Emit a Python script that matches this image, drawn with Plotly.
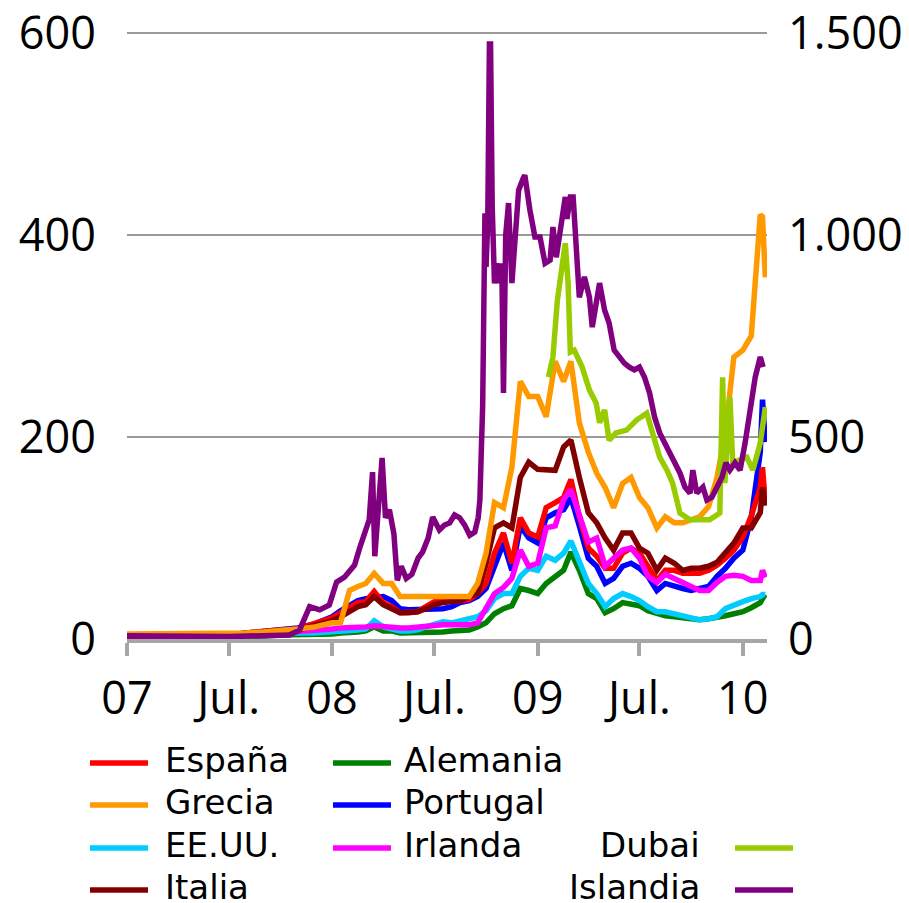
import plotly.graph_objects as go

# fechas comunes (mensual 2007, quincenal 2008-2010)
dates = ["2007-01-01", "2007-02-01", "2007-03-01", "2007-04-01", "2007-05-01", "2007-06-01",
         "2007-07-01", "2007-08-01", "2007-09-01", "2007-10-01", "2007-11-01", "2007-12-01",
         "2008-01-01", "2008-01-16", "2008-02-01", "2008-02-16", "2008-03-01", "2008-03-16",
         "2008-04-01", "2008-04-16", "2008-05-01", "2008-05-16", "2008-06-01", "2008-06-16",
         "2008-07-01", "2008-07-16", "2008-08-01", "2008-08-16", "2008-09-01", "2008-09-16",
         "2008-10-01", "2008-10-16", "2008-11-01", "2008-11-16", "2008-12-01", "2008-12-16",
         "2009-01-01", "2009-01-16", "2009-02-01", "2009-02-16", "2009-03-01", "2009-03-16",
         "2009-04-01", "2009-04-16", "2009-05-01", "2009-05-16", "2009-06-01", "2009-06-16",
         "2009-07-01", "2009-07-16", "2009-08-01", "2009-08-16", "2009-09-01", "2009-09-16",
         "2009-10-01", "2009-10-16", "2009-11-01", "2009-11-16", "2009-12-01", "2009-12-16",
         "2010-01-01", "2010-01-16", "2010-02-01", "2010-02-05", "2010-02-10"]

espana = [3, 3, 3, 3, 3, 3, 4, 6, 8, 9, 10, 15,
          21, 26, 32, 36, 37, 47, 36, 32, 26, 26, 27, 32,
          37, 37, 37, 38, 39, 45, 55, 85, 105, 75, 120, 105,
          101, 130, 135, 140, 158, 121, 90, 82, 70, 70, 85, 90,
          85, 72, 58, 68, 68, 65, 65, 65, 68, 73, 80, 88,
          101, 122, 150, 170, 135]
portugal = [3, 3, 3, 3, 3, 3, 4, 6, 8, 9, 11, 15,
            22, 28, 34, 38, 40, 41, 42, 38, 30, 29, 29, 29,
            30, 30, 32, 36, 38, 42, 50, 72, 95, 68, 112, 100,
            95, 120, 125, 128, 140, 112, 80, 72, 55, 60, 72, 75,
            70, 62, 48, 55, 52, 50, 48, 50, 52, 62, 70, 80,
            88, 120, 185, 237, 195]
italia = [3, 3, 3, 3, 3, 3, 4, 5, 7, 8, 9, 13,
          18, 22, 28, 32, 34, 42, 34, 30, 26, 26, 27, 30,
          34, 36, 37, 38, 42, 45, 75, 110, 115, 110, 160, 175,
          168, 167, 167, 190, 197, 160, 125, 115, 100, 88, 105, 105,
          90, 85, 68, 80, 75, 68, 70, 70, 72, 76, 85, 95,
          110, 110, 125, 150, 132]
grecia = [5, 5, 5, 5, 5, 5, 5, 6, 7, 8, 10, 12,
          16, 16, 48, 52, 55, 65, 55, 55, 42, 42, 42, 42,
          42, 42, 42, 42, 42, 55, 85, 135, 130, 170, 255, 240,
          240, 220, 275, 255, 275, 214, 185, 164, 150, 130, 154, 160,
          140, 130, 110, 121, 115, 115, 118, 121, 131, 160, 205, 279,
          286, 300, 420, 418, 358]
eeuu = [2, 2, 2, 2, 2, 2, 3, 4, 5, 6, 6, 6,
        7, 7, 8, 9, 10, 18, 12, 10, 8, 8, 9, 12,
        15, 17, 16, 18, 19, 22, 28, 40, 45, 45, 62, 70,
        68, 82, 78, 85, 97, 75, 55, 45, 32, 40, 45, 42,
        38, 32, 27, 27, 25, 22, 20, 19, 20, 22, 30, 34,
        37, 40, 42, 44, 44]
alemania = [2, 2, 2, 2, 2, 2, 2, 3, 3, 4, 4, 5,
            5, 6, 6, 7, 8, 12, 8, 8, 6, 6, 6, 6,
            7, 7, 8, 8, 9, 12, 16, 25, 30, 33, 50, 48,
            45, 55, 62, 68, 86, 68, 45, 40, 26, 30, 36, 35,
            33, 28, 25, 23, 22, 21, 20, 19, 20, 21, 23, 25,
            27, 31, 36, 40, 44]
irlanda = [2, 2, 2, 2, 2, 2, 3, 4, 5, 6, 7, 8,
           10, 11, 11, 12, 12, 13, 12, 11, 11, 11, 12, 13,
           14, 14, 14, 14, 14, 16, 30, 45, 51, 60, 88, 72,
           75, 110, 112, 138, 148, 121, 96, 100, 72, 80, 88, 90,
           80, 62, 56, 64, 60, 55, 52, 48, 48, 56, 62, 63,
           62, 58, 58, 68, 61]

# eje derecho
dubai_dates = ["2009-01-20", "2009-01-28", "2009-02-05", "2009-02-14", "2009-02-19", "2009-02-24",
               "2009-02-28", "2009-03-07", "2009-03-21", "2009-04-03", "2009-04-15", "2009-04-21",
               "2009-04-30", "2009-05-08", "2009-05-20", "2009-06-08", "2009-06-26", "2009-07-14",
               "2009-07-24", "2009-08-06", "2009-08-19", "2009-08-29", "2009-09-11", "2009-09-29",
               "2009-10-16", "2009-11-03", "2009-11-21", "2009-11-26", "2009-11-30", "2009-12-09",
               "2009-12-14", "2009-12-27", "2010-01-08", "2010-01-19", "2010-02-01", "2010-02-10"]
dubai = [648, 698, 839, 930, 980, 881,
         710, 715, 673, 616, 584, 535,
         567, 492, 510, 517, 542, 559,
         510, 450, 418, 386, 312, 295,
         295, 295, 312, 648, 386, 599,
         436, 443, 450, 418, 485, 574]

islandia_dates = ["2007-01-01", "2007-04-01", "2007-07-01", "2007-10-17", "2007-11-04", "2007-11-22",
                  "2007-12-10", "2007-12-27", "2008-01-09", "2008-01-23", "2008-02-10", "2008-02-19",
                  "2008-03-01", "2008-03-07", "2008-03-13", "2008-03-17", "2008-03-30", "2008-04-05",
                  "2008-04-12", "2008-04-20", "2008-04-26", "2008-05-03", "2008-05-12", "2008-05-22",
                  "2008-06-02", "2008-06-10", "2008-06-20", "2008-06-28", "2008-07-10", "2008-07-19",
                  "2008-07-28", "2008-08-06", "2008-08-15", "2008-08-24", "2008-09-02", "2008-09-11",
                  "2008-09-17", "2008-09-20", "2008-09-25", "2008-09-29", "2008-10-01", "2008-10-04",
                  "2008-10-07", "2008-10-09", "2008-10-12", "2008-10-16", "2008-10-20", "2008-10-25",
                  "2008-10-29", "2008-11-01", "2008-11-05", "2008-11-10", "2008-11-16", "2008-11-21",
                  "2008-11-28", "2008-12-06", "2008-12-09", "2008-12-18", "2008-12-27", "2009-01-05",
                  "2009-01-14", "2009-01-23", "2009-01-28", "2009-02-03", "2009-02-10", "2009-02-19",
                  "2009-02-22", "2009-02-28", "2009-03-05", "2009-03-10", "2009-03-16", "2009-03-25",
                  "2009-04-03", "2009-04-08", "2009-04-21", "2009-04-30", "2009-05-08", "2009-05-17",
                  "2009-05-26", "2009-06-04", "2009-06-13", "2009-06-22", "2009-07-01", "2009-07-10",
                  "2009-07-19", "2009-07-28", "2009-08-06", "2009-08-15", "2009-08-24", "2009-09-02",
                  "2009-09-11", "2009-09-20", "2009-09-29", "2009-10-04", "2009-10-11", "2009-10-22",
                  "2009-10-29", "2009-11-07", "2009-11-16", "2009-11-25", "2009-12-02", "2009-12-09",
                  "2009-12-18", "2009-12-27", "2010-01-05", "2010-01-14", "2010-01-23", "2010-02-01",
                  "2010-02-06"]
islandia = [8, 6, 6, 10, 22, 80,
            72, 84, 141, 153, 183, 225,
            270, 295, 413, 205, 448, 300,
            320, 260, 145, 180, 150, 160,
            200, 215, 250, 302, 270, 282,
            287, 307, 300, 282, 257, 265,
            300, 344, 579, 1054, 921, 1030,
            1473, 1473, 1069, 880, 930, 881,
            930, 609, 1000, 1079, 881, 1000,
            1111, 1140, 1148, 1062, 995, 995,
            930, 938, 1020, 945, 1012, 1094,
            1040, 1094, 1094, 988, 846, 896,
            846, 772, 881, 814, 782, 715,
            698, 683, 673, 666, 673, 648,
            609, 549, 510, 485, 460, 436,
            411, 376, 361, 418, 361, 376,
            344, 351, 376, 401, 436, 418,
            436, 418, 485, 567, 648, 698,
            673]

tick_dates = ["2007-01-01", "2007-07-01", "2008-01-01", "2008-07-01", "2009-01-01", "2009-07-01", "2010-01-01"]
tick_text = ["07", "Jul.", "08", "Jul.", "09", "Jul.", "10"]

left_series = [
    ("Alemania", alemania, "#008000"),
    ("EE.UU.", eeuu, "#00CCFF"),
    ("Portugal", portugal, "#0000FF"),
    ("España", espana, "#FF0000"),
    ("Irlanda", irlanda, "#FF00FF"),
    ("Italia", italia, "#800000"),
    ("Grecia", grecia, "#FF9900"),
]

LW = 5.5

fig = go.Figure()
for name, vals, color in left_series:
    fig.add_trace(go.Scatter(x=dates, y=vals, name=name, mode="lines",
                             line=dict(color=color, width=LW)))
fig.add_trace(go.Scatter(x=dubai_dates, y=dubai, name="Dubai", mode="lines", yaxis="y2",
                         line=dict(color="#99CC00", width=LW)))
fig.add_trace(go.Scatter(x=islandia_dates, y=islandia, name="Islandia", mode="lines", yaxis="y2",
                         line=dict(color="#800080", width=LW)))

# page has an 8px body margin; plot area on the page: x 127..767, y 32..639
OFF = 8
W, H = 909 - OFF, 903 - OFF
L, R, T, B = 127, 767, 32, 639


def px(x):
    return (x - L) / (R - L)


def py(y):
    return (B - y) / (B - T)


legend_items = [
    ("España", "#FF0000", 90, 148, 163, 763, "left"),
    ("Grecia", "#FF9900", 90, 148, 163, 805, "left"),
    ("EE.UU.", "#00CCFF", 90, 148, 163, 848, "left"),
    ("Italia", "#800000", 90, 148, 163, 890, "left"),
    ("Alemania", "#008000", 333, 391, 402, 763, "left"),
    ("Portugal", "#0000FF", 333, 391, 402, 805, "left"),
    ("Irlanda", "#FF00FF", 333, 391, 402, 848, "left"),
    ("Dubai", "#99CC00", 735, 793, 702, 848, "right"),
    ("Islandia", "#800080", 735, 793, 702, 890, "right"),
]
for text, color, x0, x1, tx, y, anchor in legend_items:
    fig.add_shape(type="line", xref="paper", yref="paper", x0=px(x0), x1=px(x1), y0=py(y), y1=py(y),
                  line=dict(color=color, width=LW))
    fig.add_annotation(xref="paper", yref="paper", x=px(tx), y=py(y - 3), text=text, showarrow=False,
                       xanchor=anchor, yanchor="middle",
                       font=dict(family="DejaVu Sans", size=34, color="black"))

fig.update_layout(
    width=W, height=H,
    margin=dict(l=L - OFF, r=W - (R - OFF), t=T - OFF, b=H - (B - OFF)),
    showlegend=False,
    plot_bgcolor="white", paper_bgcolor="white",
    font=dict(family="Open Sans", size=45, color="black"),
    separators=",.",
    xaxis=dict(type="date", range=["2007-01-01", "2010-02-13"], automargin=False,
               tickmode="array", tickvals=tick_dates, ticktext=tick_text,
               tickfont=dict(family="Liberation Sans Narrow, Open Sans", size=45),
               showgrid=False, zeroline=False,
               showline=True, linecolor="#A6A6A6", linewidth=4,
               ticks="outside", ticklen=13, tickwidth=4, tickcolor="#A6A6A6",
               ticklabelstandoff=4),
    yaxis=dict(range=[0, 601], tickmode="array", tickvals=[0, 200, 400, 600], automargin=False,
               showgrid=True, gridcolor="#9A9A9A", gridwidth=1.5, zeroline=False,
               showline=False, ticks="", ticklabelstandoff=30, ticklabeloverflow="allow"),
    yaxis2=dict(range=[0, 1502.5], overlaying="y", side="right", tickmode="array", automargin=False,
                tickvals=[0, 500, 1000, 1500], tickformat=",d",
                showgrid=False, zeroline=False, showline=False, ticks="",
                ticklabelstandoff=20, ticklabeloverflow="allow"),
)

fig.write_html("out.html")
